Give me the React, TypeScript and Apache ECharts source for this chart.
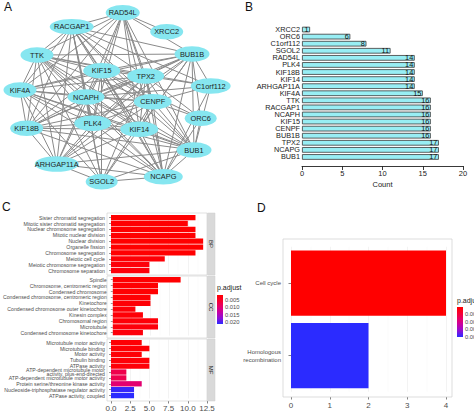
import React, { useEffect, useRef } from "react";
import * as echarts from "echarts";

// ---------- Panel A: PPI network ----------
const geneNames = ["RAD54L","XRCC2","RACGAP1","TTK","BUB1B","KIF15","TPX2","C1orf112","KIF4A","NCAPH","CENPF","ORC6","KIF18B","PLK4","KIF14","BUB1","ARHGAP11A","SGOL2","NCAPG"];
const geneX = [122.7,166.7,71.7,37,192,101.7,145.7,210.7,20,86,152.7,200.7,26.7,92.7,139.3,194,56.7,101.7,163.3];
const geneY = [12.7,31.7,26.7,55,54,70.7,76,86,90,97,101.7,118.3,128.3,123.3,129.3,150,164,181.7,176.7];
const nodeWidths = [34,33,44,33,35,37,37,40,33,37,38,32,33,37,38,35,44,32,39];
// pairs that are NOT linked (all other pairs are linked)
const missingLinks: [string, string][] = [
  ["ORC6","C1orf112"],["ORC6","SGOL2"],["ORC6","RAD54L"],["ORC6","PLK4"],["ORC6","KIF18B"],["ORC6","KIF14"],
  ["ORC6","ARHGAP11A"],["ORC6","KIF4A"],["ORC6","TTK"],["ORC6","RACGAP1"],["ORC6","NCAPH"],
  ["C1orf112","SGOL2"],["C1orf112","RAD54L"],["C1orf112","PLK4"],["C1orf112","KIF18B"],["C1orf112","KIF14"],
  ["C1orf112","ARHGAP11A"],["C1orf112","KIF4A"],["C1orf112","KIF15"],
  ["SGOL2","RAD54L"],["SGOL2","PLK4"],["SGOL2","KIF18B"],["SGOL2","KIF14"],
  ["RAD54L","ARHGAP11A"],["CENPF","BUB1B"],
];
const xrcc2Partners = ["RAD54L"]; // XRCC2 has a single partner

// ---------- Panel B: degree counts ----------
const degreeGenes = ["XRCC2","ORC6","C1orf112","SGOL2","RAD54L","PLK4","KIF18B","KIF14","ARHGAP11A","KIF4A","TTK","RACGAP1","NCAPH","KIF15","CENPF","BUB1B","TPX2","NCAPG","BUB1"];
const degreeCounts = [1,6,8,11,14,14,14,14,14,15,16,16,16,16,16,16,17,17,17];
const countTicks = [0,5,10,15,20];

// ---------- Panel C: GO enrichment ----------
const bpTerms = ["Sister chromatid segregation","Mitotic sister chromatid segregation","Nuclear chromosome segregation","Mitotic nuclear division","Nuclear division","Organelle fission","Chromosome segregation","Meiotic cell cycle","Meiotic chromosome segregation","Chromosome separation"];
const bpCounts = [11,10,11,11,12,12,11,7,5,5];
const bpPadj = [0.0018,0.0019,0.0018,0.0018,0.0017,0.0017,0.0018,0.0022,0.0025,0.0026];
const ccTerms = ["Spindle","Chromosome, centromeric region","Condensed chromosome","Condensed chromosome, centromeric region","Kinetochore","Condensed chromosome outer kinetochore","Kinesin complex","Chromosomal region","Microtubule","Condensed chromosome kinetochore"];
const ccCounts = [9,6,6,5,5,3,4,6,6,4];
const ccPadj = [0.0018,0.0019,0.0019,0.0020,0.0021,0.0023,0.0023,0.0024,0.0025,0.0026];
const mfTerms = ["Microtubule motor activity","Microtubule binding","Motor activity","Tubulin binding","ATPase activity","ATP-dependent microtubule motor\nactivity, plus-end-directed","ATP-dependent microtubule motor activity","Protein serine/threonine kinase activity","Nucleoside-triphosphatase regulator activity","ATPase activity, coupled"];
const mfCounts = [4,5,4,5,5,2,2,4,3,3];
const mfPadj = [0.0020,0.0021,0.0022,0.0023,0.0024,0.0076,0.0078,0.0100,0.0209,0.0214];
const facetNames = ["BP","CC","MF"];
const cLegendValues = [0.005,0.010,0.015,0.020];
const cPadjRange = [0.0017,0.0214];

// ---------- Panel D: KEGG ----------
const keggTerms = ["Cell cycle","Homologous\nrecombination"];
const keggCounts = [4,2];
const keggPadj = [0.00018,0.0080];
const dLegendValues = [0.002,0.004,0.006,0.008];
const dPadjRange = [0.00018,0.0080];

const gradColors = ["#ff0000","#f7002f","#e6006a","#c400a6","#8c10d8","#2b2bff"];
const FONT = "Liberation Sans";

function padjColor(p: number, range: number[]) {
  const t = Math.min(1, Math.max(0, (p - range[0]) / (range[1] - range[0])));
  return echarts.color.lerp(t, gradColors) as string;
}

function gradient() {
  return new echarts.graphic.LinearGradient(0, 0, 0, 1,
    gradColors.map((c, i) => ({ offset: i / (gradColors.length - 1), color: c })));
}

export default function App() {
  const ref = useRef<HTMLDivElement>(null);
  useEffect(() => {
    if (!ref.current) return;
    const chart = echarts.init(ref.current, null, { renderer: "svg" });

    // network links
    const missing = new Set(missingLinks.map(([a, b]) => [a, b].sort().join("|")));
    const links: any[] = [];
    for (let i = 0; i < geneNames.length; i++) {
      for (let j = i + 1; j < geneNames.length; j++) {
        const a = geneNames[i], b = geneNames[j];
        if (a === "XRCC2" || b === "XRCC2") {
          const other = a === "XRCC2" ? b : a;
          if (!xrcc2Partners.includes(other)) continue;
        }
        if (missing.has([a, b].sort().join("|"))) continue;
        links.push({ source: a, target: b });
      }
    }
    const minX = Math.min(...geneX), maxX = Math.max(...geneX);
    const minY = Math.min(...geneY), maxY = Math.max(...geneY);

    // Panel C layout
    const cGridTops = [214.7, 276.8, 339.7];
    const cGridH = 58.8;
    const cPanelTops = [213, 276, 339];
    const cPanelH = 62;
    const cTermsAll = [bpTerms, ccTerms, mfTerms];
    const cCountsAll = [bpCounts, ccCounts, mfCounts];
    const cPadjAll = [bpPadj, ccPadj, mfPadj];

    const grids: any[] = [
      { left: 302, top: 26, width: 161, height: 134.5 },
    ];
    const xAxes: any[] = [
      {
        gridIndex: 0, type: "value", min: countTicks[0], max: countTicks[countTicks.length - 1], interval: 5,
        offset: 5.5,
        axisLine: { show: true, lineStyle: { color: "#222", width: 0.9 } },
        axisTick: { show: true, length: 4, lineStyle: { color: "#222", width: 0.9 } },
        axisLabel: { fontSize: 7.5, color: "#222", margin: 3, fontFamily: FONT },
        splitLine: { show: false },
        name: "Count", nameLocation: "middle", nameGap: 14,
        nameTextStyle: { fontSize: 7.5, color: "#222", fontFamily: FONT },
      },
    ];
    const yAxes: any[] = [
      {
        gridIndex: 0, type: "category", inverse: true, data: degreeGenes,
        axisLine: { show: false }, axisTick: { show: false },
        axisLabel: { fontSize: 7.3, lineHeight: 6.8, color: "#222", margin: 2, fontFamily: FONT, interval: 0 },
      },
    ];
    const series: any[] = [
      {
        type: "graph", layout: "none", roam: false, silent: true,
        left: minX, top: minY, width: maxX - minX, height: maxY - minY,
        symbol: "path://M0,10A20,10 0 1,1 40,10A20,10 0 1,1 0,10Z",
        data: geneNames.map((n, i) => ({ name: n, x: geneX[i], y: geneY[i], symbolSize: [nodeWidths[i], 15.5] })),
        links,
        itemStyle: { color: "#86e6f0" },
        lineStyle: { color: "#8a8a8a", width: 1, opacity: 1, curveness: 0 },
        label: { show: true, position: "inside", fontSize: 7.4, color: "#1e1e1e", fontFamily: FONT },
        emphasis: { disabled: true },
      },
      {
        type: "bar", xAxisIndex: 0, yAxisIndex: 0, data: degreeCounts, barWidth: 5.6, silent: true,
        itemStyle: { color: "#98eef4", borderColor: "#3a3a3a", borderWidth: 0.8 },
        label: { show: true, position: "insideRight", distance: 1.5, fontSize: 7.3, lineHeight: 6.8, color: "#111", fontFamily: FONT },
      },
    ];

    for (let k = 0; k < 3; k++) {
      const gi = k + 1;
      const last = k === 2;
      grids.push({ left: 111, top: cGridTops[k], width: 96, height: cGridH });
      xAxes.push({
        gridIndex: gi, type: "value", min: 0, max: 12.5, interval: 2.5,
        offset: last ? cPanelTops[k] + cPanelH - (cGridTops[k] + cGridH) : 0,
        axisLine: { show: false },
        axisTick: { show: last, length: 2.5, lineStyle: { color: "#333", width: 0.6 } },
        axisLabel: { show: last, fontSize: 8, color: "#4d4d4d", margin: 3, fontFamily: FONT,
          formatter: (v: number) => v.toFixed(1) },
        splitLine: { show: true, lineStyle: { color: "#ebebeb", width: 0.6 } },
        minorTick: { show: false, splitNumber: 2 },
        minorSplitLine: { show: true, lineStyle: { color: "#f5f5f5", width: 0.4 } },
      });
      yAxes.push({
        gridIndex: gi, type: "category", inverse: true, data: cTermsAll[k], offset: 4,
        axisLine: { show: false },
        axisTick: { show: true, length: 2, alignWithLabel: true, interval: 0, lineStyle: { color: "#333", width: 0.5 } },
        axisLabel: { fontSize: 5.2, color: "#4d4d4d", margin: 2, fontFamily: FONT, lineHeight: 4.6, interval: 0 },
        splitLine: { show: false },
      });
      series.push({
        type: "bar", xAxisIndex: gi, yAxisIndex: gi, barWidth: "90%", silent: true,
        data: cCountsAll[k].map((v, i) => ({ value: v, itemStyle: { color: padjColor(cPadjAll[k][i], cPadjRange) } })),
      });
    }

    // Panel D
    grids.push({ left: 291, top: 246.75, width: 155, height: 145 });
    xAxes.push({
      gridIndex: 4, type: "value", min: 0, max: 4, interval: 1, offset: 5.25,
      axisLine: { show: false },
      axisTick: { show: true, length: 2.5, lineStyle: { color: "#333", width: 0.6 } },
      axisLabel: { fontSize: 8, color: "#4d4d4d", margin: 4, fontFamily: FONT },
      splitLine: { show: true, lineStyle: { color: "#ebebeb", width: 0.6 } },
      minorTick: { show: false, splitNumber: 2 },
      minorSplitLine: { show: true, lineStyle: { color: "#f5f5f5", width: 0.4 } },
    });
    yAxes.push({
      gridIndex: 4, type: "category", inverse: true, data: keggTerms, offset: 8,
      axisLine: { show: false },
      axisTick: { show: true, length: 2.5, alignWithLabel: true, lineStyle: { color: "#333", width: 0.6 } },
      axisLabel: { fontSize: 6, color: "#4d4d4d", margin: 2, fontFamily: FONT, lineHeight: 8 },
    });
    series.push({
      type: "bar", xAxisIndex: 4, yAxisIndex: 4, barWidth: "90%", silent: true,
      data: keggCounts.map((v, i) => ({ value: v, itemStyle: { color: padjColor(keggPadj[i], dPadjRange) } })),
    });

    const graphic: any[] = [];
    const panelLabel = (t: string, x: number, y: number) => ({
      type: "text", x, y, style: { text: t, fontSize: 12, fill: "#111", fontFamily: FONT },
    });
    graphic.push(panelLabel("A", 4, 1), panelLabel("B", 245, 1), panelLabel("C", 2, 201), panelLabel("D", 257, 202));

    // Panel C frames + strips
    for (let k = 0; k < 3; k++) {
      graphic.push({
        type: "rect", shape: { x: 107, y: cPanelTops[k], width: 100, height: cPanelH }, z: 100,
        style: { fill: "none", stroke: "#cfcfcf", lineWidth: 0.6 },
      });
      graphic.push({
        type: "rect", shape: { x: 207.5, y: cPanelTops[k], width: 7.5, height: cPanelH }, z: 100,
        style: { fill: "#d9d9d9", stroke: "#cfcfcf", lineWidth: 0.5 },
      });
      graphic.push({
        type: "text", x: 211.3, y: cPanelTops[k] + cPanelH / 2, rotation: -Math.PI / 2, z: 101,
        style: { text: facetNames[k], fontSize: 6, fill: "#1a1a1a", fontFamily: FONT, align: "center", verticalAlign: "middle" },
      });
    }
    // Legend C
    const cBar = { x: 217, y: 295, w: 6, h: 29 };
    graphic.push({ type: "text", x: 217, y: 287, style: { text: "p.adjust", fontSize: 7, fill: "#222", fontFamily: FONT, verticalAlign: "middle" } });
    graphic.push({ type: "rect", shape: { x: cBar.x, y: cBar.y, width: cBar.w, height: cBar.h }, style: { fill: gradient() } });
    cLegendValues.forEach((v) => {
      const y = cBar.y + (v - cPadjRange[0]) / (cPadjRange[1] - cPadjRange[0]) * cBar.h;
      graphic.push({ type: "text", x: cBar.x + cBar.w + 2, y, style: { text: v.toFixed(3), fontSize: 5.8, fill: "#4d4d4d", fontFamily: FONT, verticalAlign: "middle" } });
    });

    // Panel D frame
    graphic.push({
      type: "rect", shape: { x: 283, y: 239, width: 169, height: 158 }, z: 100,
      style: { fill: "none", stroke: "#cfcfcf", lineWidth: 0.7 },
    });
    // Legend D
    const dBar = { x: 457, y: 307, w: 6, h: 30 };
    graphic.push({ type: "text", x: 457, y: 300, style: { text: "p.adjust", fontSize: 7, fill: "#222", fontFamily: FONT, verticalAlign: "middle" } });
    graphic.push({ type: "rect", shape: { x: dBar.x, y: dBar.y, width: dBar.w, height: dBar.h }, style: { fill: gradient() } });
    dLegendValues.forEach((v) => {
      const y = dBar.y + (v - dPadjRange[0]) / (dPadjRange[1] - dPadjRange[0]) * dBar.h;
      graphic.push({ type: "text", x: dBar.x + dBar.w + 2, y, style: { text: v.toFixed(3), fontSize: 5.8, fill: "#4d4d4d", fontFamily: FONT, verticalAlign: "middle" } });
    });

    chart.setOption({
      animation: false,
      backgroundColor: "#ffffff",
      textStyle: { fontFamily: FONT },
      grid: grids,
      xAxis: xAxes,
      yAxis: yAxes,
      series,
      graphic,
    });
    return () => chart.dispose();
  }, []);
  return <div ref={ref} style={{ position: "fixed", left: 0, top: 0, width: 474, height: 412 }} />;
}
